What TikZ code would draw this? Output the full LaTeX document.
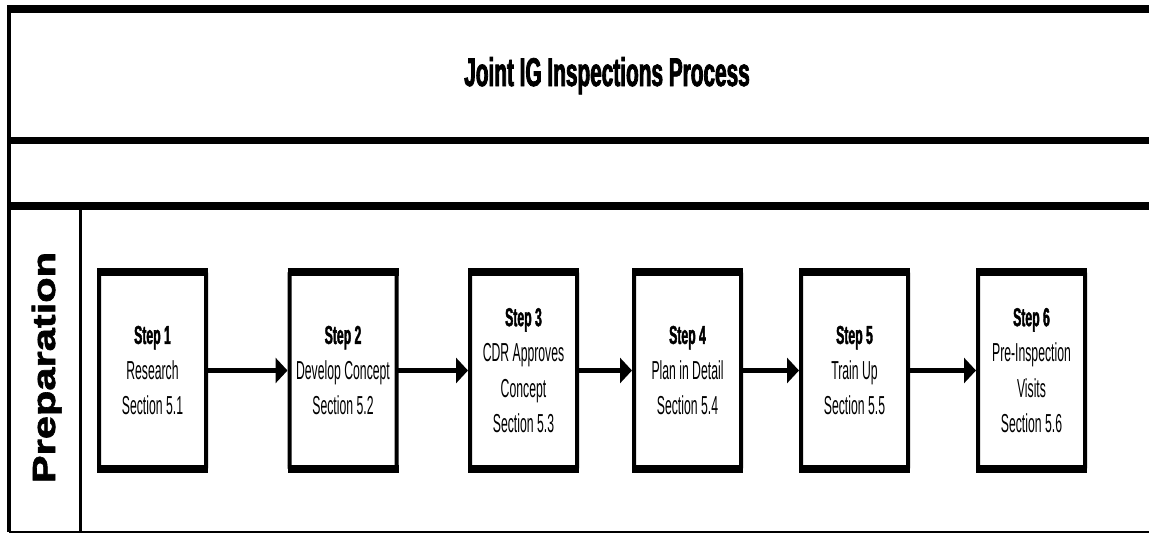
\documentclass[tikz,border=0pt]{standalone}
\usepackage{fontspec}
\setmainfont{Liberation Sans}
\newfontfamily\narrowfont[FakeStretch=0.47,BoldFeatures={FakeBold=1.5}]{Liberation Sans}
\newfontfamily\titlefont[FakeStretch=0.52,BoldFeatures={FakeBold=2}]{Liberation Sans}
\newfontfamily\widefont[FakeStretch=1.3,BoldFeatures={FakeBold=2}]{Liberation Sans}
\usetikzlibrary{arrows.meta}
\begin{document}
\begin{tikzpicture}[x=1pt,y=-1pt,
  frame/.style={line width=7.5pt},
  thinframe/.style={line width=3.5pt},
  stepbox/.style={draw, line width=4pt, minimum width=107pt, minimum height=197pt,
    inner sep=0pt, outer sep=0pt, rounded corners=1.5pt, align=center,
    font=\narrowfont\fontsize{26}{35.5}\selectfont},
  flow/.style={line width=4.5pt, -{Triangle[length=12pt,width=25pt]}, shorten >=2pt},
  boxedge/.style={line width=8pt}
]
\useasboundingbox (0,0) rectangle (1149,533);
\fill[white] (0,0) rectangle (1149,533);
% frame
\draw[frame] (7.25,8.8) -- (1149,8.8);
\draw[thinframe] (9,5) -- (9,532);
\draw[frame] (9,140.5) -- (1149,140.5);
\draw[frame] (9,206) -- (1149,206);
\draw[thinframe] (80.5,206) -- (80.5,532);
\draw[line width=2pt] (9,531.5) -- (1149,531.5);
% title
\node[font=\titlefont\bfseries\fontsize{40}{42}\selectfont, anchor=base, inner sep=0pt] (title) at (607,86) {Joint IG Inspections Process};
% lane label
\node[rotate=90, font=\widefont\bfseries\fontsize{32}{32}\selectfont, anchor=base, inner sep=0pt] (lane) at (55,367.5) {Preparation};
% steps
\node[stepbox] (s1) at (152.5,370.5) {\textbf{Step 1}\\Research\\Section 5.1};
\node[stepbox] (s2) at (343,370.5) {\textbf{Step 2}\\Develop Concept\\Section 5.2};
\node[stepbox] (s3) at (523.5,370.5) {\textbf{Step 3}\\CDR Approves\\Concept\\Section 5.3};
\node[stepbox] (s4) at (687.5,370.5) {\textbf{Step 4}\\Plan in Detail\\Section 5.4};
\node[stepbox] (s5) at (854.5,370.5) {\textbf{Step 5}\\Train Up\\Section 5.5};
\node[stepbox] (s6) at (1031.5,370.5) {\textbf{Step 6}\\Pre-Inspection\\Visits\\Section 5.6};
\foreach \n in {s1,s2,s3,s4,s5,s6}{
  \draw[boxedge] ([xshift=-2pt]\n.north west) -- ([xshift=2pt]\n.north east);
  \draw[boxedge] ([xshift=-2pt]\n.south west) -- ([xshift=2pt]\n.south east);
}
% connectors
\draw[flow] (s1.east) -- (s2.west);
\draw[flow] (s2.east) -- (s3.west);
\draw[flow] (s3.east) -- (s4.west);
\draw[flow] (s4.east) -- (s5.west);
\draw[flow] (s5.east) -- (s6.west);
\end{tikzpicture}
\end{document}
